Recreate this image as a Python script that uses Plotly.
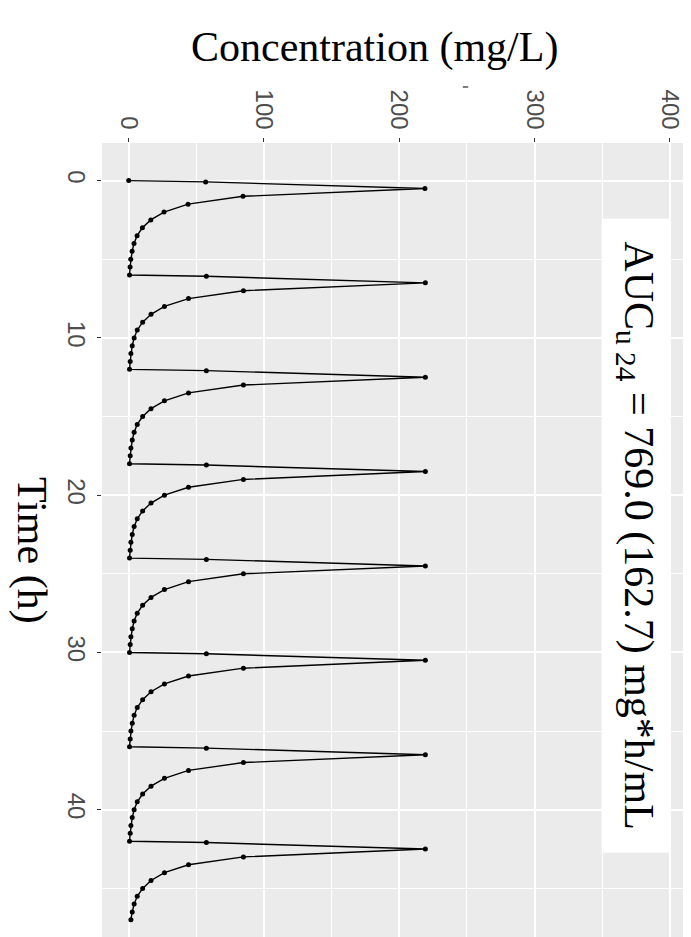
import plotly.graph_objects as go

# ---- data ----
dose_start_h = [0, 6, 12, 18, 24, 30, 36, 42]
time_after_dose_h = [0, 0.083, 0.5, 1, 1.5, 2, 2.5, 3, 3.5, 4, 4.5, 5, 5.5]
conc_first_dose = [0, 56.9, 219.0, 84.5, 43.9, 26.1, 16.3, 10.1, 6.2, 3.9, 2.5, 1.5, 1.0]
conc_later_dose = [0.6, 57.4, 219.3, 84.8, 44.2, 26.4, 16.5, 10.3, 6.3, 4.0, 2.6, 1.6, 1.1]
last_dose_n_points = 12  # final dose observed through 5 h

conc_ticks = [0, 100, 200, 300, 400]
time_ticks = [0, 10, 20, 30, 40]

auc_label = "AUC<sub>u 24</sub> = 769.0 (162.7) mg*h/mL"
x_title = "Concentration (mg/L)"
y_title = "Time (h)"

# ---- assemble series ----
times, concs = [], []
for i, d in enumerate(dose_start_h):
    prof = conc_first_dose if i == 0 else conc_later_dose
    n = last_dose_n_points if i == len(dose_start_h) - 1 else len(time_after_dose_h)
    for t, c in zip(time_after_dose_h[:n], prof[:n]):
        times.append(d + t)
        concs.append(c)

fig = go.Figure()
fig.add_trace(go.Scatter(
    x=concs, y=times, mode="lines+markers",
    line=dict(color="black", width=1.4),
    marker=dict(color="black", size=5),
    hoverinfo="skip",
))

tickfont = dict(family="Liberation Sans, Arial, sans-serif", size=24, color="#4D4D4D")
serif = "Liberation Serif, Times New Roman, serif"

fig.update_layout(
    width=691, height=937,
    margin=dict(l=94, r=0, t=135, b=0),
    paper_bgcolor="white", plot_bgcolor="#EBEBEB",
    showlegend=False,
    xaxis=dict(
        range=[-19.75, 421.6], side="top",
        tickmode="array", tickvals=conc_ticks, ticktext=[str(v) for v in conc_ticks],
        tickangle=90, ticks="outside", ticklen=4, tickwidth=1.1, tickcolor="#333333",
        tickfont=tickfont, showgrid=True, gridcolor="white", gridwidth=1.7,
        minor=dict(dtick=50, tick0=0, showgrid=True, gridcolor="white", gridwidth=1.0, ticks=""),
        zeroline=False, showline=False,
    ),
    yaxis=dict(
        range=[48.6, -2.39],
        tickmode="array", tickvals=time_ticks, ticktext=[str(v) for v in time_ticks],
        tickangle=90, ticks="outside", ticklen=4, tickwidth=1.1, tickcolor="#333333",
        tickfont=tickfont, showgrid=True, gridcolor="white", gridwidth=1.7,
        minor=dict(dtick=5, tick0=0, showgrid=True, gridcolor="white", gridwidth=1.0, ticks=""),
        zeroline=False, showline=False,
    ),
)

plot_w = 691 - 94
plot_h = 937 - 135

def px_x(px):
    return (px - 94) / plot_w

def px_y(py):
    return 1 - (py - 135) / plot_h

fig.add_annotation(
    text=x_title, xref="paper", yref="paper", x=px_x(366), y=px_y(40),
    xanchor="center", yanchor="middle", showarrow=False,
    font=dict(family=serif, size=42, color="black"),
)
fig.add_annotation(
    text=y_title, xref="paper", yref="paper", x=px_x(24), y=px_y(542),
    xanchor="center", yanchor="middle", showarrow=False, textangle=90,
    font=dict(family=serif, size=42, color="black"),
)
fig.add_annotation(
    text=auc_label, xref="x", yref="y", x=375, y=22.6,
    xanchor="center", yanchor="middle", showarrow=False, textangle=90,
    width=633, height=68, bgcolor="white", borderpad=0,
    font=dict(family=serif, size=42, color="black"),
)
fig.add_shape(type="line", xref="x", yref="paper", x0=247, x1=251,
              y0=px_y(79), y1=px_y(79), line=dict(color="#555555", width=1.5))

fig.write_html("out.html")
